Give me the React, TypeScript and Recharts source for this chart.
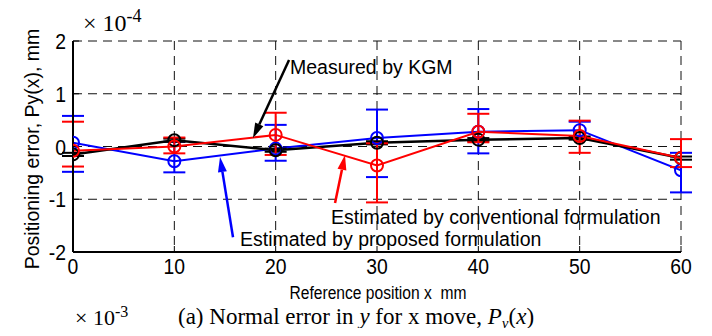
import React from 'react';
import { ComposedChart, Line, XAxis, YAxis, CartesianGrid, ErrorBar, ReferenceLine } from 'recharts';

// Reference position x (mm)
const positions = [0, 10, 20, 30, 40, 50, 60];
// Positioning error (x 1e-4 mm)
const measuredKGM = [-0.15, 0.12, -0.07, 0.07, 0.13, 0.16, -0.22];
const measuredErr = [0.03, 0.03, 0.03, 0.03, 0.03, 0.03, 0.03];
const proposed = [0.07, -0.28, -0.04, 0.16, 0.28, 0.31, -0.45];
const proposedErrLow = [0.55, 0.21, 0.23, 0.74, 0.41, 0.15, 0.42];
const proposedErrHigh = [0.51, 0.37, 0.45, 0.54, 0.43, 0.16, 0.33];
const conventional = [-0.08, 0.0, 0.22, -0.36, 0.28, 0.2, -0.22];
const conventionalErrLow = [0.3, 0.13, 0.38, 0.7, 0.2, 0.32, 0.17];
const conventionalErrHigh = [0.55, 0.17, 0.42, 0.42, 0.34, 0.29, 0.36];

const xTicks = [0, 10, 20, 30, 40, 50, 60];
const yTicks = [-2, -1, 0, 1, 2];

// annotation arrows (data coordinates: tail -> tip)
const arrowKGM = [{ x: 21.32, y: 1.64 }, { x: 17.76, y: 0.16 }];
const arrowProposed = [{ x: 15.79, y: -1.72 }, { x: 14.51, y: -0.2 }];
const arrowConventional = [{ x: 25.86, y: -1.07 }, { x: 26.84, y: -0.16 }];

const data = positions.map((x, i) => ({
  x,
  kgm: measuredKGM[i],
  kgmErr: [measuredErr[i], measuredErr[i]],
  prop: proposed[i],
  propErr: [proposedErrLow[i], proposedErrHigh[i]],
  conv: conventional[i],
  convErr: [conventionalErrLow[i], conventionalErrHigh[i]],
}));

const BLUE = '#0000ff';
const RED = '#ff0000';
const BLACK = '#000000';
const SANS = 'Liberation Sans, Arial, sans-serif';
const SERIF = 'Liberation Serif, Times New Roman, serif';

const arrowShape = (color: string) => (props: any) => {
  const { x1, y1, x2, y2 } = props;
  const dx = x2 - x1;
  const dy = y2 - y1;
  const len = Math.hypot(dx, dy) || 1;
  const ux = dx / len;
  const uy = dy / len;
  const L = 15;
  const W = 4.5;
  const bx = x2 - ux * L;
  const by = y2 - uy * L;
  return (
    <g>
      <line x1={x1} y1={y1} x2={bx} y2={by} stroke={color} strokeWidth={2.5} />
      <polygon
        points={`${x2},${y2} ${bx - uy * W},${by + ux * W} ${bx + uy * W},${by - ux * W}`}
        fill={color}
      />
    </g>
  );
};

const XTick = (props: any) => {
  const { x, y, payload } = props;
  return (
    <g transform={`translate(${x},${y})`}>
      <text transform="scale(0.88,1)" textAnchor="middle" dy={16} fontSize={22} fontFamily={SANS} fill="#000">
        {payload.value}
      </text>
    </g>
  );
};

const YTick = (props: any) => {
  const { x, y, payload } = props;
  return (
    <g transform={`translate(${x},${y})`}>
      <text transform="scale(0.88,1)" textAnchor="end" dy={8} fontSize={22} fontFamily={SANS} fill="#000">
        {payload.value}
      </text>
    </g>
  );
};

export default function App() {
  return (
    <div style={{ margin: -8, width: 712, height: 336, background: '#fff' }}>
      <ComposedChart
        width={712}
        height={336}
        data={data}
        margin={{ top: 41, right: 31, bottom: 54, left: 43 }}
        style={{ fontFamily: SANS }}
      >
        <CartesianGrid stroke="#111" strokeDasharray="9 6" strokeWidth={1} />
        <XAxis
          dataKey="x"
          type="number"
          domain={[0, 60]}
          ticks={xTicks}
          allowDataOverflow
          height={30}
          tickSize={-6}
          tickMargin={12}
          tick={<XTick />}
          axisLine={{ stroke: '#000', strokeWidth: 2 }}
          tickLine={{ stroke: '#000', strokeWidth: 1 }}
        />
        <XAxis
          xAxisId="top"
          orientation="top"
          dataKey="x"
          type="number"
          domain={[0, 60]}
          ticks={xTicks}
          height={0}
          tickSize={-6}
          tick={false}
          axisLine={{ stroke: '#000', strokeWidth: 2 }}
          tickLine={{ stroke: '#000', strokeWidth: 1 }}
        />
        <YAxis
          type="number"
          domain={[-2, 2]}
          ticks={yTicks}
          allowDataOverflow
          width={30}
          tickSize={-6}
          tickMargin={13}
          tick={<YTick />}
          axisLine={{ stroke: '#000', strokeWidth: 2 }}
          tickLine={{ stroke: '#000', strokeWidth: 1 }}
        />
        <YAxis
          yAxisId="right"
          orientation="right"
          type="number"
          domain={[-2, 2]}
          ticks={yTicks}
          width={0}
          tickSize={-6}
          tick={false}
          axisLine={{ stroke: '#000', strokeWidth: 2 }}
          tickLine={{ stroke: '#000', strokeWidth: 1 }}
        />

        <Line
          dataKey="prop"
          type="linear"
          stroke={BLUE}
          strokeWidth={2}
          dot={{ r: 6, stroke: BLUE, strokeWidth: 2, fill: 'none', clipDot: true }}
          isAnimationActive={false}
        >
          <ErrorBar dataKey="propErr" direction="y" width={11} stroke={BLUE} strokeWidth={2} />
        </Line>
        <Line
          dataKey="kgm"
          type="linear"
          stroke={BLACK}
          strokeWidth={2.5}
          dot={{ r: 6, stroke: BLACK, strokeWidth: 2, fill: 'none', clipDot: true }}
          isAnimationActive={false}
        >
          <ErrorBar dataKey="kgmErr" direction="y" width={11} stroke={BLACK} strokeWidth={2} />
        </Line>
        <Line
          dataKey="conv"
          type="linear"
          stroke={RED}
          strokeWidth={2}
          dot={{ r: 6, stroke: RED, strokeWidth: 2, fill: 'none', clipDot: true }}
          isAnimationActive={false}
        >
          <ErrorBar dataKey="convErr" direction="y" width={11} stroke={RED} strokeWidth={2} />
        </Line>

        <ReferenceLine segment={arrowKGM} ifOverflow="visible" shape={arrowShape(BLACK)} />
        <ReferenceLine segment={arrowProposed} ifOverflow="visible" shape={arrowShape(BLUE)} />
        <ReferenceLine segment={arrowConventional} ifOverflow="visible" shape={arrowShape(RED)} />

        <text x={290} y={74} fontSize={19.5} fontFamily={SANS} fill="#000">
          Measured by KGM
        </text>
        <text x={331} y={224} fontSize={19.5} fontFamily={SANS} fill="#000">
          Estimated by conventional formulation
        </text>
        <text x={240} y={246} fontSize={19.5} fontFamily={SANS} fill="#000">
          Estimated by proposed formulation
        </text>

        <text
          x={39}
          y={149}
          transform="rotate(-90 39 149)"
          textAnchor="middle"
          fontSize={19.5}
          fontFamily={SANS}
          fill="#000"
        >
          Positioning error, Py(x), mm
        </text>

        <text x={83} y={31} fontSize={24} fontFamily={SERIF} fill="#000">
          × 10<tspan dy={-9} fontSize={18}>-4</tspan>
        </text>

        <text
          x={378}
          y={299}
          textAnchor="middle"
          fontSize={18}
          fontFamily={SANS}
          fill="#000"
          textLength={177}
          lengthAdjust="spacingAndGlyphs"
          style={{ whiteSpace: 'pre' }}
        >
          Reference position x  mm
        </text>

        <text x={75} y={325} fontSize={22} fontFamily={SERIF} fill="#000">
          × 10<tspan dy={-8} fontSize={16}>-3</tspan>
        </text>

        <text x={178} y={324} fontSize={23} fontFamily={SERIF} fill="#000" style={{ whiteSpace: 'pre' }}>
          (a) Normal error in <tspan fontStyle="italic">y</tspan> for x move,{' '}
          <tspan fontStyle="italic">P</tspan>
          <tspan fontStyle="italic" fontSize={15} dy={4}>y</tspan>
          <tspan dy={-4}>(</tspan>
          <tspan fontStyle="italic">x</tspan>
          <tspan>)</tspan>
        </text>
      </ComposedChart>
    </div>
  );
}
